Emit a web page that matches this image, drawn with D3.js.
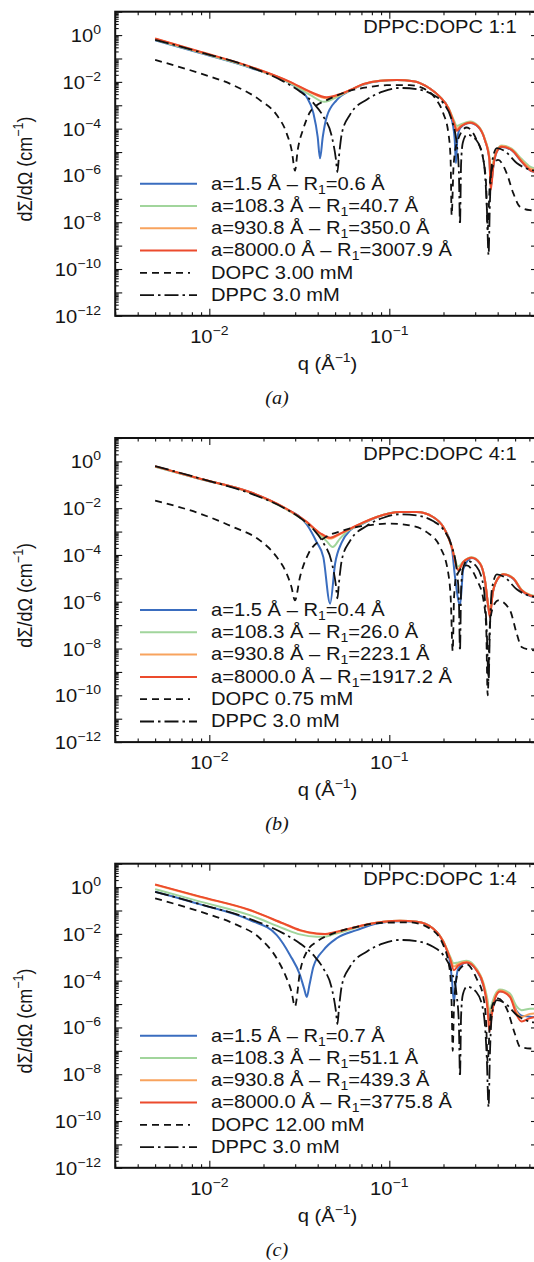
<!DOCTYPE html>
<html>
<head>
<meta charset="utf-8">
<script src="https://cdn.jsdelivr.net/npm/d3@7"></script>
<style>
  html, body { margin: 0; padding: 0; background: #fff; }
  svg { display: block; }
  text { font-family: "Liberation Sans", Arial, Helvetica, sans-serif; fill: #151515; }
</style>
</head>
<body>
<svg id="fig" width="534" height="1262"></svg>
<script>
// ---------- axes ----------
const qDomain = [0.003, 0.67];
const iDomain = [1e-12, 10];
const xMajorTicks = [0.01, 0.1];
const xTickExponents = ["−2", "−1"];
const yLabelTicks = [1, 1e-2, 1e-4, 1e-6, 1e-8, 1e-10, 1e-12];
const yTickExponents = ["0", "−2", "−4", "−6", "−8", "−10", "−12"];

// ---------- labels ----------
const panelTitles = ["DPPC:DOPC 1:1", "DPPC:DOPC 4:1", "DPPC:DOPC 1:4"];
const panelCaptions = ["(a)", "(b)", "(c)"];
const aValues = ["1.5", "108.3", "930.8", "8000.0"];
const r1PanelA = ["0.6", "40.7", "350.0", "3007.9"];
const r1PanelB = ["0.4", "26.0", "223.1", "1917.2"];
const r1PanelC = ["0.7", "51.1", "439.3", "3775.8"];
const dopcLabels = ["DOPC 3.00 mM", "DOPC 0.75 mM", "DOPC 12.00 mM"];
const dppcLabel = "DPPC 3.0 mM";

// ---------- pure DPPC 3.0 mM, [q (1/Å), dΣ/dΩ (1/cm)] ----------
const dppc = [[0.005,6.3e-1],[0.0089,1.86e-1],[0.0169,4.3e-2],[0.0258,1.05e-2],[0.0319,3.9e-3],[0.0379,1.23e-3],
  [0.043,3.3e-4],[0.0479,4.7e-5],[0.0505,5.0e-6],[0.0515,1.4e-6],[0.0525,6.3e-6],[0.0545,6.3e-5],[0.0605,4.0e-4],
  [0.0748,1.74e-3],[0.0927,3.9e-3],[0.1146,5.5e-3],[0.142,4.9e-3],[0.175,2.8e-3],[0.1995,1.23e-3],[0.222,2.4e-4],
  [0.2366,2.4e-5],[0.2434,1.6e-6],[0.247,7.9e-9],[0.2505,3.2e-6],[0.256,2.5e-5],[0.27,5.6e-5],[0.305,3.2e-5],
  [0.333,5.0e-6],[0.348,5.0e-8],[0.356,4.0e-10],[0.362,6.3e-8],[0.3715,3.4e-6],[0.396,1.48e-5],[0.44,1.07e-5],
  [0.51,3.4e-6],[0.605,1.78e-6],[0.65,1.6e-6]];

// ---------- panel (a): DPPC:DOPC 1:1 ----------
const blueA = [[0.005,6.0e-1],[0.0089,1.7e-1],[0.0169,4.0e-2],[0.0281,8.5e-3],[0.0348,2.2e-3],[0.0379,4.5e-4],
  [0.040,4.5e-5],[0.0412,5.4e-6],[0.0427,4.5e-5],[0.0449,3.2e-4],[0.051,1.66e-3],[0.0605,4.2e-3],[0.0718,7.6e-3],
  [0.0888,1.1e-2],[0.110,1.2e-2],[0.136,1.07e-2],[0.168,5.2e-3],[0.191,2.3e-3],[0.213,7.1e-4],[0.225,1.6e-4],
  [0.231,3.2e-5],[0.2345,3.3e-6],[0.239,4.0e-5],[0.249,1.12e-4],[0.281,1.74e-4],[0.312,1.17e-4],[0.340,3.2e-5],
  [0.360,4.5e-6],[0.366,3.2e-7],[0.378,2.3e-6],[0.395,1.0e-5],[0.421,1.66e-5],[0.478,1.2e-5],[0.544,3.8e-6],
  [0.605,1.66e-6],[0.65,1.38e-6]];
const greenA = [[0.005,6.3e-1],[0.0089,1.78e-1],[0.0169,4.2e-2],[0.0281,8.9e-3],[0.0363,2.8e-3],[0.0435,1.4e-3],
  [0.0532,2.6e-3],[0.0605,4.3e-3],[0.0718,7.9e-3],[0.0888,1.12e-2],[0.110,1.2e-2],[0.136,1.07e-2],[0.168,5.2e-3],
  [0.191,2.3e-3],[0.213,7.9e-4],[0.229,2.2e-4],[0.2367,1.3e-4],[0.249,1.5e-4],[0.281,2.0e-4],[0.312,1.3e-4],
  [0.340,3.5e-5],[0.360,6.3e-6],[0.366,1.26e-6],[0.378,4.0e-6],[0.395,1.12e-5],[0.421,1.9e-5],[0.478,1.4e-5],
  [0.544,5.0e-6],[0.605,2.4e-6],[0.65,2.0e-6]];
const orangeA = [[0.005,7.0e-1],[0.0089,1.9e-1],[0.0169,4.4e-2],[0.0281,9.8e-3],[0.0363,3.6e-3],[0.0449,2.0e-3],
  [0.0532,2.9e-3],[0.0605,4.4e-3],[0.0718,8.0e-3],[0.0888,1.12e-2],[0.110,1.2e-2],[0.136,1.07e-2],[0.168,5.2e-3],
  [0.191,2.3e-3],[0.213,7.6e-4],[0.229,1.9e-4],[0.2367,1.0e-4],[0.249,1.3e-4],[0.281,1.9e-4],[0.312,1.25e-4],
  [0.340,3.3e-5],[0.360,5.2e-6],[0.366,3.5e-7],[0.378,3.0e-6],[0.395,1.07e-5],[0.421,1.8e-5],[0.478,1.3e-5],
  [0.544,4.3e-6],[0.605,2.0e-6],[0.65,1.7e-6]];
const redA = [[0.005,7.1e-1],[0.0089,1.95e-1],[0.0169,4.5e-2],[0.0281,1.0e-2],[0.0363,3.8e-3],[0.0449,2.2e-3],
  [0.0532,3.0e-3],[0.0605,4.5e-3],[0.0718,8.1e-3],[0.0888,1.12e-2],[0.110,1.2e-2],[0.136,1.07e-2],[0.168,5.2e-3],
  [0.191,2.3e-3],[0.213,7.4e-4],[0.229,1.7e-4],[0.2367,8.1e-5],[0.249,1.2e-4],[0.281,1.78e-4],[0.312,1.2e-4],
  [0.340,3.2e-5],[0.360,4.6e-6],[0.366,2.4e-7],[0.378,2.3e-6],[0.395,1.02e-5],[0.421,1.7e-5],[0.478,1.23e-5],
  [0.544,3.9e-6],[0.605,1.7e-6],[0.65,1.4e-6]];
const dopcA = [[0.005,8.7e-2],[0.0089,2.3e-2],[0.0136,7.2e-3],[0.0191,1.66e-3],[0.0237,3.8e-4],[0.0269,6.3e-5],
  [0.0288,1.0e-5],[0.0299,1.6e-6],[0.031,1.26e-5],[0.0333,1.0e-4],[0.0362,5.0e-4],[0.0395,1.0e-3],[0.0449,1.66e-3],
  [0.058,3.8e-3],[0.0748,5.8e-3],[0.0968,7.2e-3],[0.130,7.2e-3],[0.161,4.5e-3],[0.183,1.66e-3],[0.1995,4.5e-4],
  [0.213,6.3e-5],[0.219,5.0e-6],[0.222,2.0e-8],[0.2275,2.5e-6],[0.2375,2.5e-5],[0.269,1.12e-4],[0.306,3.2e-5],
  [0.333,4.6e-6],[0.345,4.0e-7],[0.352,5.0e-9],[0.362,5.0e-7],[0.378,2.8e-6],[0.402,4.6e-6],[0.449,1.23e-6],
  [0.489,1.7e-7],[0.532,4.6e-8],[0.605,3.3e-8],[0.65,3.2e-8]];

// ---------- panel (b): DPPC:DOPC 4:1 ----------
const blueB = [[0.005,6.0e-1],[0.0089,1.78e-1],[0.0168,4.8e-2],[0.0258,1.07e-2],[0.0348,2.0e-3],[0.0395,3.5e-4],
  [0.043,8.1e-5],[0.0469,8.3e-7],[0.05,4.3e-5],[0.0545,3.5e-4],[0.0605,1.12e-3],[0.0687,1.9e-3],[0.0851,4.1e-3],
  [0.1146,6.8e-3],[0.142,6.8e-3],[0.175,4.2e-3],[0.1995,1.55e-3],[0.2223,2.0e-4],[0.2317,1.15e-5],[0.2472,7.1e-7],
  [0.2576,2.5e-5],[0.287,7.4e-5],[0.319,4.2e-5],[0.340,7.9e-6],[0.3548,6.3e-7],[0.362,3.2e-7],[0.375,2.2e-6],
  [0.395,7.9e-6],[0.43,1.45e-5],[0.489,9.3e-6],[0.543,3.0e-6],[0.605,1.74e-6],[0.65,1.6e-6]];
const greenB = [[0.005,5.9e-1],[0.0089,1.78e-1],[0.0168,4.7e-2],[0.0258,1.05e-2],[0.0348,2.4e-3],[0.0412,7.1e-4],
  [0.0447,4.0e-4],[0.0485,2.2e-4],[0.0532,5.0e-4],[0.0592,1.12e-3],[0.0659,1.66e-3],[0.0851,4.2e-3],[0.1146,6.8e-3],
  [0.142,6.8e-3],[0.175,4.2e-3],[0.1995,1.55e-3],[0.2223,2.3e-4],[0.2415,3.2e-5],[0.2576,5.2e-5],[0.287,7.9e-5],
  [0.319,4.5e-5],[0.340,8.5e-6],[0.3548,7.0e-7],[0.362,5.0e-7],[0.375,2.4e-6],[0.395,8.5e-6],[0.43,1.55e-5],
  [0.489,1.02e-5],[0.543,3.3e-6],[0.605,2.0e-6],[0.65,1.78e-6]];
const orangeB = [[0.005,6.1e-1],[0.0089,1.8e-1],[0.0168,4.85e-2],[0.0258,1.1e-2],[0.0348,2.5e-3],[0.0412,8.3e-4],
  [0.0469,5.0e-4],[0.0532,7.8e-4],[0.0659,1.8e-3],[0.0851,4.2e-3],[0.1146,6.8e-3],[0.142,6.8e-3],[0.175,4.2e-3],
  [0.1995,1.55e-3],[0.2223,2.2e-4],[0.2415,2.4e-5],[0.2576,5.0e-5],[0.287,7.7e-5],[0.319,4.4e-5],[0.340,8.3e-6],
  [0.3548,6.2e-7],[0.362,2.6e-7],[0.375,2.3e-6],[0.395,8.3e-6],[0.43,1.5e-5],[0.489,1.0e-5],[0.543,3.2e-6],
  [0.605,1.9e-6],[0.65,1.7e-6]];
const redB = [[0.005,6.2e-1],[0.0089,1.82e-1],[0.0168,4.9e-2],[0.0258,1.12e-2],[0.0348,2.6e-3],[0.0412,8.7e-4],
  [0.0469,5.5e-4],[0.0532,8.1e-4],[0.0659,1.82e-3],[0.0851,4.2e-3],[0.1146,6.8e-3],[0.142,6.8e-3],[0.175,4.2e-3],
  [0.1995,1.55e-3],[0.2223,2.2e-4],[0.2415,2.2e-5],[0.2576,5.0e-5],[0.287,7.6e-5],[0.319,4.3e-5],[0.340,8.1e-6],
  [0.3548,5.9e-7],[0.362,2.2e-7],[0.375,2.2e-6],[0.395,8.1e-6],[0.43,1.48e-5],[0.489,9.8e-6],[0.543,3.1e-6],
  [0.605,1.86e-6],[0.65,1.66e-6]];
const dopcB = [[0.005,2.1e-2],[0.0089,5.8e-3],[0.0136,1.55e-3],[0.0191,4.2e-4],[0.0237,8.1e-5],[0.0269,1.58e-5],
  [0.0286,4.3e-6],[0.0299,1.15e-6],[0.0319,1.15e-5],[0.0355,1.12e-4],[0.043,5.0e-4],[0.0555,1.12e-3],[0.0748,1.82e-3],
  [0.1009,2.2e-3],[0.130,1.82e-3],[0.1614,9.5e-4],[0.1914,2.2e-4],[0.2128,1.58e-5],[0.2195,1.26e-6],[0.225,7.9e-9],
  [0.229,1.6e-6],[0.236,1.26e-5],[0.269,3.6e-5],[0.306,8.9e-6],[0.333,1.26e-6],[0.345,1.0e-7],[0.352,1.0e-10],
  [0.362,1.0e-7],[0.378,6.3e-7],[0.404,1.15e-6],[0.468,4.3e-7],[0.51,4.4e-8],[0.543,1.17e-8],[0.605,8.9e-9],
  [0.65,8.3e-9]];

// ---------- panel (c): DPPC:DOPC 1:4 ----------
const blueC = [[0.005,6.3e-1],[0.0089,1.82e-1],[0.0168,3.9e-2],[0.0237,8.9e-3],[0.0281,1.23e-3],[0.0319,1.74e-4],
  [0.0336,4.7e-5],[0.0348,2.0e-5],[0.036,6.5e-5],[0.0379,4.0e-4],[0.043,2.0e-3],[0.051,6.5e-3],[0.0659,1.45e-2],
  [0.0851,2.8e-2],[0.1146,3.5e-2],[0.142,3.3e-2],[0.175,1.7e-2],[0.1995,4.4e-3],[0.2173,6.3e-4],[0.2228,1.1e-4],
  [0.2286,1.26e-5],[0.2345,1.0e-4],[0.2415,3.2e-4],[0.269,6.0e-4],[0.305,2.8e-4],[0.333,6.3e-5],[0.351,1.0e-5],
  [0.36,2.5e-6],[0.371,6.3e-6],[0.387,2.0e-5],[0.412,3.5e-5],[0.468,2.2e-5],[0.51,5.0e-6],[0.543,3.2e-6],
  [0.605,2.9e-6],[0.65,2.8e-6]];
const greenC = [[0.005,8.2e-1],[0.0089,2.4e-1],[0.0168,6.3e-2],[0.0258,1.7e-2],[0.0319,9.5e-3],[0.0395,7.6e-3],
  [0.044,7.6e-3],[0.0489,9.5e-3],[0.0605,1.55e-2],[0.0748,2.45e-2],[0.0927,3.3e-2],[0.1146,3.6e-2],[0.142,3.3e-2],
  [0.175,1.7e-2],[0.1995,5.0e-3],[0.2173,1.12e-3],[0.2286,5.5e-4],[0.2415,6.0e-4],[0.269,7.1e-4],[0.305,3.3e-4],
  [0.333,8.3e-5],[0.351,1.58e-5],[0.36,4.7e-6],[0.371,1.0e-5],[0.387,2.5e-5],[0.412,4.2e-5],[0.468,2.8e-5],
  [0.51,7.9e-6],[0.543,5.5e-6],[0.605,6.3e-6],[0.65,6.3e-6]];
const orangeC = [[0.005,1.26],[0.0089,3.8e-1],[0.0168,1.02e-1],[0.0258,2.7e-2],[0.0319,1.4e-2],[0.0395,1.0e-2],
  [0.044,9.6e-3],[0.0489,1.1e-2],[0.0605,1.68e-2],[0.0748,2.5e-2],[0.0927,3.3e-2],[0.1146,3.6e-2],[0.142,3.3e-2],
  [0.175,1.7e-2],[0.1995,4.8e-3],[0.2173,1.0e-3],[0.2286,4.0e-4],[0.2415,5.2e-4],[0.269,6.5e-4],[0.305,3.0e-4],
  [0.333,7.4e-5],[0.351,1.0e-5],[0.36,1.6e-6],[0.371,5.5e-6],[0.387,2.1e-5],[0.412,3.8e-5],[0.468,2.3e-5],
  [0.51,4.6e-6],[0.543,2.8e-6],[0.605,3.8e-6],[0.65,4.0e-6]];
const redC = [[0.005,1.3],[0.0089,3.9e-1],[0.0168,1.05e-1],[0.0258,2.8e-2],[0.0319,1.45e-2],[0.0395,1.05e-2],
  [0.044,1.0e-2],[0.0489,1.15e-2],[0.0605,1.7e-2],[0.0748,2.5e-2],[0.0927,3.3e-2],[0.1146,3.6e-2],[0.142,3.3e-2],
  [0.175,1.7e-2],[0.1995,4.6e-3],[0.2173,8.9e-4],[0.2286,2.8e-4],[0.2415,4.4e-4],[0.269,6.0e-4],[0.305,2.8e-4],
  [0.333,6.5e-5],[0.351,6.6e-6],[0.36,6.6e-7],[0.371,3.4e-6],[0.387,1.74e-5],[0.412,3.4e-5],[0.468,2.0e-5],
  [0.51,3.4e-6],[0.543,1.78e-6],[0.605,2.5e-6],[0.65,2.8e-6]];
const dopcC = [[0.005,3.3e-1],[0.0089,8.9e-2],[0.0136,2.8e-2],[0.0191,6.5e-3],[0.0237,8.9e-4],[0.0269,1.26e-4],
  [0.0286,3.4e-5],[0.0299,7.9e-6],[0.0319,2.4e-4],[0.0348,1.74e-3],[0.0395,4.6e-3],[0.0489,1.05e-2],[0.0659,2.0e-2],
  [0.0927,3.0e-2],[0.130,3.1e-2],[0.168,1.7e-2],[0.1995,3.3e-3],[0.2173,2.4e-4],[0.2223,6.6e-6],[0.225,1.0e-7],
  [0.229,1.0e-5],[0.2415,2.5e-4],[0.269,5.0e-4],[0.305,1.26e-4],[0.333,2.0e-5],[0.345,1.6e-6],[0.352,3.2e-8],
  [0.362,1.6e-6],[0.378,1.12e-5],[0.402,1.74e-5],[0.449,6.3e-6],[0.5,5.0e-7],[0.532,1.48e-7],[0.605,1.26e-7],
  [0.65,1.26e-7]];

// ---------- drawing ----------
const SX = 1.12;                 // horizontal stretch of the typeface
const FS = 18;                   // main font size
const SUP = 12.5;                // super/subscript size
const colors = { blue: "#3a6dbf", green: "#a1d59c", orange: "#f8a35e", red: "#ec4b2d", black: "#111" };
const dashDOPC = "7,5";
const dashDPPC = "14,4,2.5,4";

const panels = [
  { offset: 0,     title: panelTitles[0], caption: panelCaptions[0], r1: r1PanelA, dopcLabel: dopcLabels[0],
    series: [blueA, greenA, orangeA, redA], dopc: dopcA },
  { offset: 426.3, title: panelTitles[1], caption: panelCaptions[1], r1: r1PanelB, dopcLabel: dopcLabels[1],
    series: [blueB, greenB, orangeB, redB], dopc: dopcB },
  { offset: 852,   title: panelTitles[2], caption: panelCaptions[2], r1: r1PanelC, dopcLabel: dopcLabels[2],
    series: [blueC, greenC, orangeC, redC], dopc: dopcC }
];
const seriesColors = [colors.blue, colors.green, colors.orange, colors.red];

const svg = d3.select("#fig");
const X0 = 115.2, X1 = 538, Y0 = 11.7, Y1 = 315.8;
const x = d3.scaleLog().domain(qDomain).range([X0, X1]);
const y = d3.scaleLog().domain(iDomain).range([Y1, Y0]);

function stretched(sel, px, py, extra) {
  return sel.attr("transform", `translate(${px},${py}) scale(${SX},1)${extra || ""}`);
}

// minor tick positions for the log axes
const xMinor = [];
[0.001, 0.01, 0.1].forEach(d => { for (let k = 2; k <= 9; k++) { const v = +(k * d).toPrecision(3); if (v > qDomain[0] * 0.999 && v < qDomain[1]) xMinor.push(v); } });
const yMajor = d3.range(-12, 2).map(e => Math.pow(10, e));
const yMinor = [];
d3.range(-12, 1).forEach(e => { for (let k = 2; k <= 9; k++) yMinor.push(k * Math.pow(10, e)); });

const line = d3.line().x(d => x(d[0])).y(d => y(d[1])).curve(d3.curveMonotoneX);

panels.forEach((p, pi) => {
  const g = svg.append("g").attr("transform", `translate(0,${p.offset})`);

  const clipId = "clip" + pi;
  g.append("clipPath").attr("id", clipId)
    .append("rect").attr("x", X0).attr("y", Y0).attr("width", X1 - X0).attr("height", Y1 - Y0);

  // ticks (inward, on all four sides)
  const tickGroup = (axis, tx, ty) => {
    const a = g.append("g").attr("transform", `translate(${tx},${ty})`).call(axis);
    a.select(".domain").remove();
    a.selectAll("line").attr("stroke", "#111").attr("stroke-width", 1.1);
    a.selectAll("text").remove();
  };
  tickGroup(d3.axisBottom(x).tickValues(xMajorTicks).tickSizeInner(-7).tickSizeOuter(0), 0, Y1);
  tickGroup(d3.axisBottom(x).tickValues(xMinor).tickSizeInner(-3.5).tickSizeOuter(0), 0, Y1);
  tickGroup(d3.axisTop(x).tickValues(xMajorTicks).tickSizeInner(-7).tickSizeOuter(0), 0, Y0);
  tickGroup(d3.axisTop(x).tickValues(xMinor).tickSizeInner(-3.5).tickSizeOuter(0), 0, Y0);
  tickGroup(d3.axisLeft(y).tickValues(yMajor).tickSizeInner(-7).tickSizeOuter(0), X0, 0);
  tickGroup(d3.axisLeft(y).tickValues(yMinor).tickSizeInner(-3.5).tickSizeOuter(0), X0, 0);
  tickGroup(d3.axisRight(y).tickValues(yMajor).tickSizeInner(-7).tickSizeOuter(0), X1, 0);
  tickGroup(d3.axisRight(y).tickValues(yMinor).tickSizeInner(-3.5).tickSizeOuter(0), X1, 0);

  // curves: colored models first, pure-lipid references on top
  const plot = g.append("g").attr("clip-path", `url(#${clipId})`);
  p.series.forEach((s, i) => {
    plot.append("path").datum(s).attr("d", line)
      .attr("fill", "none").attr("stroke", seriesColors[i]).attr("stroke-width", 2)
      .attr("stroke-linejoin", "round");
  });
  plot.append("path").datum(p.dopc).attr("d", line)
    .attr("fill", "none").attr("stroke", colors.black).attr("stroke-width", 1.8)
    .attr("stroke-dasharray", dashDOPC);
  plot.append("path").datum(dppc).attr("d", line)
    .attr("fill", "none").attr("stroke", colors.black).attr("stroke-width", 1.8)
    .attr("stroke-dasharray", dashDPPC);

  // frame
  g.append("rect").attr("x", X0).attr("y", Y0).attr("width", X1 - X0).attr("height", Y1 - Y0)
    .attr("fill", "none").attr("stroke", "#111").attr("stroke-width", 2);

  // y tick labels
  yLabelTicks.forEach((v, i) => {
    const t = g.append("text").attr("text-anchor", "end").attr("font-size", FS);
    stretched(t, 101, y(v) + 7);
    t.append("tspan").text("10");
    t.append("tspan").attr("font-size", SUP).attr("dy", -8).text(yTickExponents[i]);
  });

  // x tick labels
  xMajorTicks.forEach((v, i) => {
    const t = g.append("text").attr("text-anchor", "middle").attr("font-size", FS);
    stretched(t, x(v), 343);
    t.append("tspan").text("10");
    t.append("tspan").attr("font-size", SUP).attr("dy", -8).text(xTickExponents[i]);
  });

  // axis titles
  const xt = g.append("text").attr("text-anchor", "middle").attr("font-size", FS);
  stretched(xt, 327.5, 370);
  xt.append("tspan").text("q (Å");
  xt.append("tspan").attr("font-size", SUP).attr("dy", -8).text("−1");
  xt.append("tspan").attr("dy", 8).text(")");

  const yt = g.append("text").attr("text-anchor", "middle").attr("font-size", FS);
  stretched(yt, 32, 169, " rotate(-90)");
  yt.append("tspan").text("dΣ/dΩ (cm");
  yt.append("tspan").attr("font-size", SUP).attr("dy", -8).text("−1");
  yt.append("tspan").attr("dy", 8).text(")");

  // panel title
  const tt = g.append("text").attr("text-anchor", "end").attr("font-size", FS).text(p.title);
  stretched(tt, 516.7, 33.3);

  // legend
  const rowY = i => 183.7 + 22.3 * i;
  const legendItems = aValues.map((a, i) => ({ color: seriesColors[i], dash: null, a, r: p.r1[i] }))
    .concat([{ color: colors.black, dash: dashDOPC, label: p.dopcLabel, x2: 190 },
             { color: colors.black, dash: dashDPPC, label: dppcLabel, x2: 197 }]);
  legendItems.forEach((it, i) => {
    const ly = rowY(i);
    g.append("line").attr("x1", 140).attr("x2", it.x2 || 197).attr("y1", ly).attr("y2", ly)
      .attr("stroke", it.color).attr("stroke-width", it.dash ? 1.8 : 2)
      .attr("stroke-dasharray", it.dash);
    const t = g.append("text").attr("font-size", FS);
    stretched(t, 211, ly + 5.8);
    if (it.label) {
      t.text(it.label);
    } else {
      t.append("tspan").text(`a=${it.a} Å – R`);
      t.append("tspan").attr("font-size", SUP).attr("dy", 4).text("1");
      t.append("tspan").attr("dy", -4).text(`=${it.r} Å`);
    }
  });

  // caption
  const cap = g.append("text").attr("text-anchor", "middle").attr("font-size", 18)
    .style("font-family", "'Liberation Serif', 'Times New Roman', serif").style("font-style", "italic")
    .text(p.caption);
  stretched(cap, 277, 404);
});
</script>
</body>
</html>
